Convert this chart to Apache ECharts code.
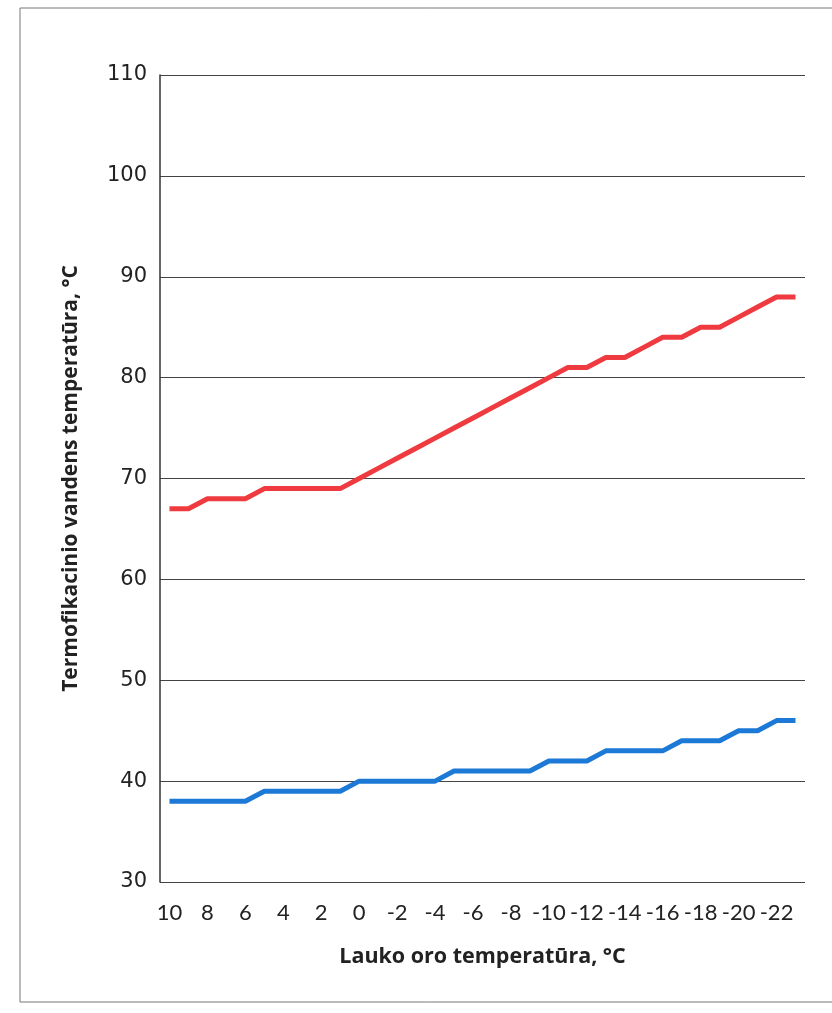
<!DOCTYPE html>
<html>
<head>
<meta charset="utf-8">
<script src="https://cdn.jsdelivr.net/npm/echarts@6/dist/echarts.min.js"></script>
<style>
html,body{margin:0;padding:0;background:#fff;}
#c{width:832px;height:1013px;}
</style>
</head>
<body>
<div id="c"></div>
<script>
var categories = ['10','9','8','7','6','5','4','3','2','1','0','-1','-2','-3','-4','-5','-6','-7','-8','-9','-10','-11','-12','-13','-14','-15','-16','-17','-18','-19','-20','-21','-22','-23'];
var supplyTemp = [67,67,68,68,68,69,69,69,69,69,70,71,72,73,74,75,76,77,78,79,80,81,81,82,82,83,84,84,85,85,86,87,88,88];
var returnTemp = [38,38,38,38,38,39,39,39,39,39,40,40,40,40,40,41,41,41,41,41,42,42,42,43,43,43,43,44,44,44,45,45,46,46];
var xTitle = 'Lauko oro temperatūra, °C';
var yTitle = 'Termofikacinio vandens temperatūra, °C';

var chart = echarts.init(document.getElementById('c'));
chart.setOption({
  backgroundColor: '#ffffff',
  animation: false,
  graphic: [{
    type: 'rect',
    shape: {x: 20, y: 8, width: 830, height: 994},
    style: {fill: 'none', stroke: '#777', lineWidth: 1}
  }],
  grid: {left: 160, right: 27, top: 75, bottom: 131},
  xAxis: {
    type: 'category',
    data: categories,
    boundaryGap: true,
    name: xTitle,
    nameLocation: 'middle',
    nameGap: 64,
    nameTextStyle: {fontFamily: 'Open Sans', fontWeight: 'bold', fontSize: 21.5, color: '#222'},
    axisLine: {show: false},
    axisTick: {show: false},
    axisLabel: {interval: 1, margin: 20, fontFamily: 'Lato', fontSize: 22, color: '#222'}
  },
  yAxis: {
    type: 'value',
    min: 30, max: 110, interval: 10,
    name: yTitle,
    nameLocation: 'middle',
    nameGap: 78,
    nameTextStyle: {fontFamily: 'Open Sans', fontWeight: 'bold', fontSize: 21, color: '#222'},
    axisLine: {show: true, lineStyle: {color: '#333', width: 1.5}},
    axisTick: {show: false},
    axisLabel: {margin: 13, fontFamily: 'DejaVu Sans', fontSize: 21, color: '#222'},
    splitLine: {lineStyle: {color: '#444', width: 1.2}}
  },
  series: [
    {type: 'line', data: supplyTemp, symbol: 'none', lineStyle: {color: '#ef3b40', width: 5}, itemStyle: {color: '#ef3b40'}},
    {type: 'line', data: returnTemp, symbol: 'none', lineStyle: {color: '#1c7ad6', width: 5}, itemStyle: {color: '#1c7ad6'}}
  ]
});
</script>
</body>
</html>
